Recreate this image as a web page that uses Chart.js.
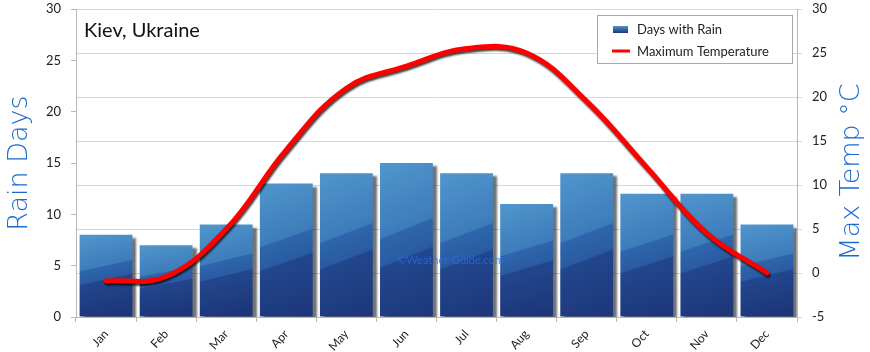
<!DOCTYPE html>
<html lang="en">
<head>
    <meta charset="UTF-8">
    <title>Kiev, Ukraine - Rain Days and Max Temp</title>
    <script src="https://cdn.jsdelivr.net/npm/chart.js"></script>
    <style>
        body { margin: 0; background: #fff; }
        .chart-container { width: 870px; height: 352px; }
    </style>
</head>
<body>
    <div class="chart-container">
        <canvas id="climateChart"></canvas>
    </div>
    <script>
        // Data
        const months = ['Jan', 'Feb', 'Mar', 'Apr', 'May', 'Jun', 'Jul', 'Aug', 'Sep', 'Oct', 'Nov', 'Dec'];
        const rainDays = [8, 7, 9, 13, 14, 15, 14, 11, 14, 12, 12, 9];
        const maxTemp = [-0.9, -0.4, 5, 14, 21, 23.5, 25.5, 25, 19.5, 12, 4.5, 0];
        const chartTitle = 'Kiev, Ukraine';
        const legendLabels = ['Days with Rain', 'Maximum Temperature'];
        const axisTitles = ['Rain Days', 'Max Temp °C'];

        const fontFamily = 'Lato, "DejaVu Sans", sans-serif';
        const titleFont = '200 27px "DejaVu Sans", sans-serif';
        const gridColor = '#d6d6d6';
        const axisColor = '#b8b8b8';
        const titleBlue = '#1a6ad0';
        const barHalf = 26.5;

        // bands slope up to the right, like the glossy bars in the original
        function barGradient(ctx, left, top, base) {
            const h = base - top;
            const a = 0.14 * h * h / (2 * barHalf);
            const g = ctx.createLinearGradient(left, top, left + a, base);
            g.addColorStop(0, '#5096cd');
            g.addColorStop(0.42, '#3d7cba');
            g.addColorStop(0.43, '#2e66ab');
            g.addColorStop(0.58, '#2a5ba2');
            g.addColorStop(0.59, '#22468d');
            g.addColorStop(1, '#1d3679');
            return g;
        }

        // shadows under bars and line, title, legend box and watermark
        const decorPlugin = {
            id: 'decor',
            beforeDatasetDraw(chart, args) {
                const ctx = chart.ctx;
                ctx.save();
                if (args.meta.type === 'bar') {
                    ctx.shadowColor = 'rgba(0,0,0,0.55)';
                    ctx.shadowOffsetX = 4;
                    ctx.shadowOffsetY = 3;
                    ctx.shadowBlur = 2;
                } else {
                    ctx.shadowColor = 'rgba(0,0,0,0.75)';
                    ctx.shadowOffsetX = 1;
                    ctx.shadowOffsetY = 2;
                    ctx.shadowBlur = 2;
                }
            },
            afterDatasetDraw(chart, args) {
                chart.ctx.restore();
                if (args.meta.type === 'bar') {
                    // watermark sits over the bars
                    const ctx = chart.ctx;
                    const a = chart.chartArea;
                    ctx.save();
                    ctx.font = '11px ' + fontFamily;
                    ctx.fillStyle = 'rgba(40,110,230,0.75)';
                    ctx.textAlign = 'center';
                    ctx.textBaseline = 'middle';
                    ctx.fillText('©Weather-Guide.com', (a.left + a.right) / 2 + 14, a.top + 251);
                    ctx.restore();
                }
            },
            afterDraw(chart) {
                const ctx = chart.ctx;
                const a = chart.chartArea;
                ctx.save();
                // title inside the plot
                ctx.font = '20px ' + fontFamily;
                ctx.fillStyle = '#111';
                ctx.textBaseline = 'alphabetic';
                ctx.fillText(chartTitle, a.left + 8, a.top + 28);

                // right axis title reads bottom to top
                ctx.save();
                ctx.translate(chart.width - 18, (a.top + a.bottom) / 2 + 9);
                ctx.rotate(-Math.PI / 2);
                ctx.font = titleFont;
                ctx.fillStyle = titleBlue;
                ctx.textAlign = 'center';
                ctx.textBaseline = 'middle';
                ctx.fillText(axisTitles[1], 0, 0);
                ctx.restore();

                // legend box
                const bx = a.right - 200, by = a.top + 6, bw = 195, bh = 48;
                ctx.fillStyle = '#fff';
                ctx.fillRect(bx, by, bw, bh);
                ctx.strokeStyle = '#a8a8a8';
                ctx.lineWidth = 1;
                ctx.strokeRect(bx + 0.5, by + 0.5, bw, bh);
                const sw = ctx.createLinearGradient(0, by + 11, 0, by + 18);
                sw.addColorStop(0, '#4f93cb');
                sw.addColorStop(1, '#1d3679');
                ctx.fillStyle = sw;
                ctx.fillRect(bx + 16, by + 11, 15, 7);
                ctx.strokeStyle = '#ff0000';
                ctx.lineWidth = 3;
                ctx.beginPath();
                ctx.moveTo(bx + 15, by + 36);
                ctx.lineTo(bx + 33, by + 36);
                ctx.stroke();
                ctx.font = '13px ' + fontFamily;
                ctx.fillStyle = '#222';
                ctx.textBaseline = 'middle';
                ctx.fillText(legendLabels[0], bx + 40, by + 15);
                ctx.fillText(legendLabels[1], bx + 40, by + 37);
                ctx.restore();
            }
        };

        function fixWidth(w) {
            return (s) => {
                s.width = w;
                s.paddingTop = 0;
                s.paddingBottom = 0;
            };
        }

        const ctx = document.getElementById('climateChart').getContext('2d');
        const climateChart = new Chart(ctx, {
            data: {
                labels: months,
                datasets: [
                    {
                        type: 'line',
                        label: legendLabels[1],
                        data: maxTemp,
                        yAxisID: 'y1',
                        borderColor: '#ff0000',
                        borderWidth: 5,
                        pointRadius: 0,
                        tension: 0.4,
                        borderCapStyle: 'round',
                        order: 0
                    },
                    {
                        type: 'bar',
                        label: legendLabels[0],
                        data: rainDays,
                        yAxisID: 'y',
                        barPercentage: 0.88,
                        categoryPercentage: 1,
                        backgroundColor: (c) => {
                            const chart = c.chart;
                            if (!chart.chartArea || c.raw === undefined) return '#2d65aa';
                            const y = chart.scales.y;
                            const xc = chart.scales.x.getPixelForValue(c.dataIndex);
                            return barGradient(chart.ctx, xc - barHalf, y.getPixelForValue(c.raw), y.getPixelForValue(0));
                        },
                        order: 1
                    }
                ]
            },
            options: {
                responsive: true,
                maintainAspectRatio: false,
                animation: false,
                layout: { padding: { top: 9, right: 0, left: 0, bottom: 0 } },
                plugins: {
                    legend: { display: false },
                    tooltip: { enabled: false }
                },
                scales: {
                    x: {
                        offset: true,
                        afterFit: (s) => { s.height = 35; },
                        grid: { drawOnChartArea: false, tickLength: 5, color: axisColor },
                        border: { color: axisColor },
                        ticks: {
                            color: '#222',
                            font: { family: fontFamily, size: 12 },
                            maxRotation: 48,
                            minRotation: 48,
                            padding: 5
                        }
                    },
                    y: {
                        position: 'left',
                        min: 0,
                        max: 30,
                        afterFit: fixWidth(76),
                        ticks: { stepSize: 5, color: '#222', padding: 10, font: { family: fontFamily, size: 13 } },
                        grid: { drawOnChartArea: false, tickLength: 5, color: axisColor },
                        border: { color: axisColor },
                        title: {
                            display: true,
                            text: axisTitles[0],
                            color: titleBlue,
                            font: { family: '"DejaVu Sans", sans-serif', size: 27, weight: '200' },
                            padding: { top: 4, bottom: 4 }
                        }
                    },
                    y1: {
                        position: 'right',
                        min: -5,
                        max: 30,
                        afterFit: fixWidth(73),
                        ticks: { stepSize: 5, color: '#222', padding: 10, font: { family: fontFamily, size: 13 } },
                        grid: { drawOnChartArea: true, tickLength: 5, color: gridColor },
                        border: { color: axisColor }
                    }
                }
            },
            plugins: [decorPlugin]
        });
    </script>
</body>
</html>
